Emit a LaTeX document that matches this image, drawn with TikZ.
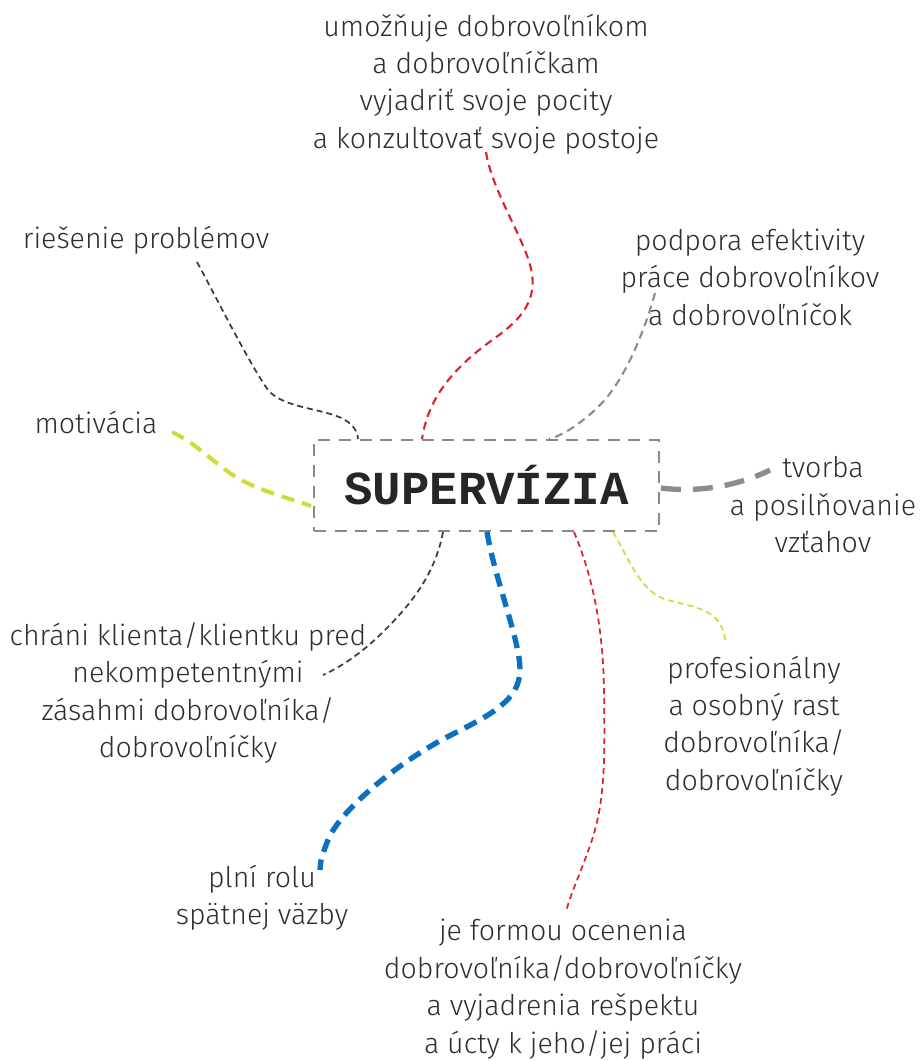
\documentclass[tikz,border=0pt]{standalone}
\usepackage{fontspec}
\setmainfont{Fira Sans Light}
\newfontfamily\boxfont{Liberation Mono}
\usepackage{tikz}
\usetikzlibrary{calc}
\definecolor{textgray}{HTML}{2E2E2E}
\definecolor{boxgray}{HTML}{8A8A85}
\definecolor{linered}{HTML}{D9262E}
\definecolor{linedark}{HTML}{3C3C3C}
\definecolor{linegray}{HTML}{8C8C88}
\definecolor{lineyellow}{HTML}{CDDC3A}
\definecolor{lineblue}{HTML}{0A70BF}
\tikzset{
  idea/.style={text=textgray,align=center,inner sep=0pt,font=\fontsize{21.4}{28.1}\selectfont},
  centerbox/.style={draw=boxgray,line width=1.5pt,dash pattern=on 9pt off 6.5pt,
    minimum width=258.75pt,minimum height=68.25pt,text=black!85},
  thinlink/.style={line width=1.3pt,dash pattern=on 4.5pt off 3pt},
  midlink/.style={line width=1.6pt,dash pattern=on 6pt off 4pt},
  thicklink/.style={line width=3pt,dash pattern=on 10pt off 6pt},
  heavylink/.style={line width=4pt,dash pattern=on 15pt off 9pt}
}
\begin{document}
\begin{tikzpicture}[x=0.75pt,y=-0.75pt] % mind map, pixel grid
  \useasboundingbox (0,0) rectangle (921,1061);
  \node[centerbox] (superv) at (486.5,485.5)
     {\boxfont\bfseries\fontsize{35.5}{40}\selectfont SUPERVÍZIA};
  \node[idea] (pocity) at (486,84)
     {umožňuje dobrovoľníkom\\a dobrovoľníčkam\\vyjadriť svoje pocity\\a konzultovať svoje postoje};
  \node[idea] (problemy) at (146,240) {riešenie problémov};
  \node[idea] (efektivita) at (750,277) {podpora efektivity\\práce dobrovoľníkov\\a dobrovoľníčok};
  \node[idea] (motivacia) at (96,422) {motivácia};
  \node[idea] (vztahy) at (823,505) {tvorba\\a posilňovanie\\vzťahov};
  \node[idea] (ochrana) at (188,693)
     {chráni klienta/klientku pred\\nekompetentnými\\zásahmi dobrovoľníka/\\dobrovoľníčky};
  \node[idea] (rast) at (754,726) {profesionálny\\a osobný rast\\dobrovoľníka/\\dobrovoľníčky};
  \node[idea] (spatna) at (262,898) {plní rolu\\spätnej väzby};
  \node[idea] (ocenenie) at (563,989)
     {je formou ocenenia\\dobrovoľníka/dobrovoľníčky\\a vyjadrenia rešpektu\\a úcty k jeho/jej práci};

  \draw[midlink,linered] ($(pocity)+(0,68)$) .. controls (492,190) and (522,235) .. (530,265)
     .. controls (540,300) and (520,320) .. (495,338) .. controls (450,370) and (428,400) .. ($(superv.north)+(-64.5,0)$);
  \draw[thinlink,linedark] ($(problemy)+(51,22)$) .. controls (215,295) and (250,365) .. (268,390)
     .. controls (285,410) and (330,408) .. (348,422) .. controls (356,428) and (358,435) .. ($(superv.north)+(-128.5,0)$);
  \draw[midlink,linegray] ($(efektivita)+(-95,16)$) .. controls (645,330) and (625,380) .. (600,405)
     .. controls (585,420) and (565,435) .. ($(superv.north)+(62.5,0)$);
  \draw[thicklink,lineyellow] ($(motivacia)+(76,10)$) .. controls (200,445) and (220,470) .. (245,482)
     .. controls (270,494) and (295,500) .. ($(superv.west)+(-2,20.5)$);
  \draw[heavylink,linegray] ($(superv.east)+(1,2.5)$) .. controls (700,493) and (740,485) .. ($(vztahy)+(-53,-35)$);
  \draw[thinlink,lineyellow] ($(superv.south)+(126.5,0)$) .. controls (632,565) and (640,588) .. (662,598)
     .. controls (685,607) and (722,605) .. ($(rast)+(-29,-86)$);
  \draw[thinlink,linedark] ($(superv.south)+(-43.5,0)$) .. controls (435,575) and (410,605) .. (385,630)
     .. controls (365,650) and (345,665) .. ($(ochrana)+(135,-18)$);
  \draw[heavylink,lineblue,dash pattern=on 10pt off 6pt] ($(superv.south)+(0.5,0)$) .. controls (495,580) and (520,640) .. (520,670)
     .. controls (520,700) and (490,715) .. (455,733) .. controls (400,760) and (340,810) .. (328,840)
     .. controls (322,855) and (320,862) .. ($(spatna)+(58,-28)$);
  \draw[thinlink,linered] ($(superv.south)+(87.5,0)$) .. controls (590,570) and (603,620) .. (604,690)
     .. controls (605,760) and (605,800) .. (592,840) .. controls (580,875) and (570,895) .. ($(ocenenie)+(3,-77)$);
\end{tikzpicture}
\end{document}
